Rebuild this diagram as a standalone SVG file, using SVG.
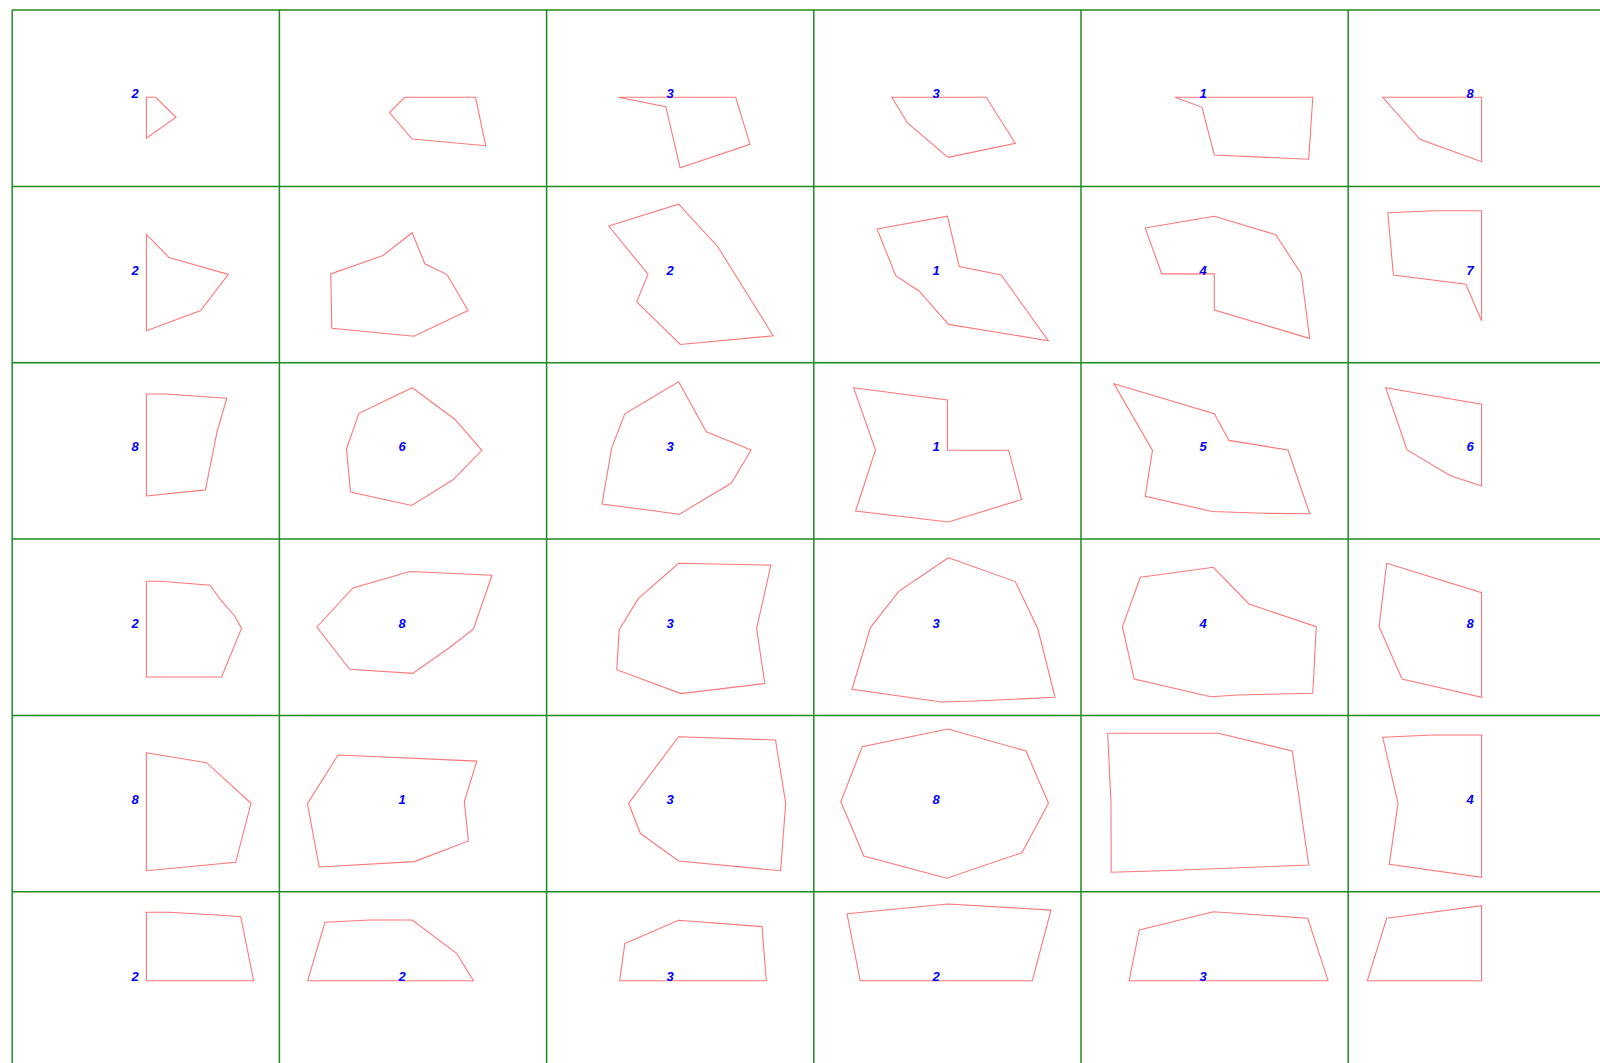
<svg xmlns="http://www.w3.org/2000/svg" width="1600" height="1063" viewBox="0 0 1600 1063">
<style>
.g{stroke:#1f8a1f;stroke-width:1.5;fill:none}
.p{stroke:#ff7878;stroke-width:1.1;fill:none;stroke-linejoin:miter}
.t{font-family:"Liberation Sans",Arial,sans-serif;font-size:13px;font-style:italic;font-weight:bold;fill:#0000ff;text-anchor:middle}
</style>
<rect x="0" y="0" width="1600" height="1063" fill="#ffffff"/>
<g id="grid">
<line class="g" x1="12" y1="10" x2="1600" y2="10"/>
<line class="g" x1="12" y1="186.5" x2="1600" y2="186.5"/>
<line class="g" x1="12" y1="362.8" x2="1600" y2="362.8"/>
<line class="g" x1="12" y1="539.1" x2="1600" y2="539.1"/>
<line class="g" x1="12" y1="715.4" x2="1600" y2="715.4"/>
<line class="g" x1="12" y1="891.7" x2="1600" y2="891.7"/>
<line class="g" x1="12.2" y1="10" x2="12.2" y2="1063"/>
<line class="g" x1="279.4" y1="10" x2="279.4" y2="1063"/>
<line class="g" x1="546.6" y1="10" x2="546.6" y2="1063"/>
<line class="g" x1="813.8" y1="10" x2="813.8" y2="1063"/>
<line class="g" x1="1081" y1="10" x2="1081" y2="1063"/>
<line class="g" x1="1348.2" y1="10" x2="1348.2" y2="1063"/>
</g>
<g id="connectors"></g>
<!-- row 0 -->
<g id="c00"><polygon class="p" points="146.4,97.3 155.6,97.3 176,117.3 146.4,138.3"/><text class="t" x="135" y="98">2</text></g>
<g id="c01"><polygon class="p" points="404.6,97.3 475.5,97.3 485.7,145.7 412.2,139 389.5,112.5"/></g>
<g id="c02"><polygon class="p" points="618.4,97.3 735.7,97.3 750,144.3 680.1,167.7 665.8,106.7"/><text class="t" x="670" y="98">3</text></g>
<g id="c03"><polygon class="p" points="891.8,97.3 986.2,97.3 1015.3,143.3 948,157.3 907.5,123"/><text class="t" x="936" y="98">3</text></g>
<g id="c04"><polygon class="p" points="1175,97.3 1312.8,97.3 1308.7,159.3 1214.3,155 1202,107.3"/><text class="t" x="1203" y="98">1</text></g>
<g id="c05"><polygon class="p" points="1382.7,97.3 1481.6,97.3 1481.6,161.7 1419.9,139.3"/><text class="t" x="1470" y="98">8</text></g>
<!-- row 1 -->
<g id="c10"><polygon class="p" points="146.4,234.3 169,257.6 228.3,274.4 200.7,310.5 146.4,330.7"/><text class="t" x="135" y="275">2</text></g>
<g id="c11"><polygon class="p" points="412.2,232.7 424.8,263.8 447,274.6 468.1,310.5 414,336.2 331.8,328.2 330.8,273.9 383,255.5"/></g>
<g id="c12"><polygon class="p" points="608.7,226 678.6,204.2 718,247 773.2,335.8 680.3,344.5 636.7,301.8 648,274.2"/><text class="t" x="670" y="275">2</text></g>
<g id="c13"><polygon class="p" points="877,229 947.4,216.2 959.2,266.6 1001.2,274.9 1048.3,340.7 948.5,324.4 919,291 895.9,276"/><text class="t" x="936" y="275">1</text></g>
<g id="c14"><polygon class="p" points="1145.2,228 1214.3,216.2 1275.8,234.8 1301.3,273.9 1309.7,338.4 1214.3,310 1214.3,273.9 1161.7,273.9"/><text class="t" x="1203" y="275">4</text></g>
<g id="c15"><polygon class="p" points="1387.8,212.7 1435.2,210.7 1481.6,210.7 1481.6,320.7 1465.8,284.3 1393.4,275"/><text class="t" x="1470" y="275">7</text></g>
<!-- row 2 -->
<g id="c20"><polygon class="p" points="146.4,394 165.8,394 226.8,398.2 217,432 205.4,489.9 146.4,496"/><text class="t" x="135" y="451">8</text></g>
<g id="c21"><polygon class="p" points="412.2,387.7 454.8,419.2 481.8,450.3 453,479.8 411.7,505.5 350.5,492 346.5,448.7 359,413.3"/><text class="t" x="402" y="451">6</text></g>
<g id="c22"><polygon class="p" points="678.6,381.7 706.3,431.7 751,450 731.4,483 679.4,514.2 602,504 611.7,447.8 624.8,413.8"/><text class="t" x="670" y="451">3</text></g>
<g id="c23"><polygon class="p" points="853.6,387.7 947.5,400 947.5,450.2 1008.6,450.2 1021.6,499.5 948.5,522 855.6,511 875.5,450"/><text class="t" x="936" y="451">1</text></g>
<g id="c24"><polygon class="p" points="1114,383.8 1214.3,413.8 1229,440.4 1288,450 1309.7,513.8 1263.3,513.3 1212.2,511.5 1145.2,496.3 1152.5,450.4"/><text class="t" x="1203" y="451">5</text></g>
<g id="c25"><polygon class="p" points="1385.7,387.7 1481.6,404.3 1481.6,486 1450.5,475.7 1407.1,450"/><text class="t" x="1470" y="451">6</text></g>
<!-- row 3 -->
<g id="c30"><polygon class="p" points="146.4,581.3 160.7,581.3 210.2,585.3 219.4,598.3 234.7,616 241.5,628.4 221.6,677 146.4,677"/><text class="t" x="135" y="628">2</text></g>
<g id="c31"><polygon class="p" points="316.8,627 353,588 409.7,571.5 492,575.2 473.5,629 449,648 412.7,673.4 349.7,669.3"/><text class="t" x="402" y="628">8</text></g>
<g id="c32"><polygon class="p" points="678.6,563.3 770.9,565.1 756.6,628.4 764.8,683.5 680.8,693.6 616.8,669.7 619.2,629.7 638.3,598.6"/><text class="t" x="670" y="628">3</text></g>
<g id="c33"><polygon class="p" points="948.5,557.7 1015.3,581.6 1038,629.3 1055,697.3 976,701 941.8,702 852,689.4 870.4,627.6 898.7,591.4"/><text class="t" x="936" y="628">3</text></g>
<g id="c34"><polygon class="p" points="1140.3,577.3 1213.3,567.3 1249,604 1316.3,626.7 1312.8,693.3 1237.8,695 1210.7,696.7 1134.2,679 1122.4,626.7"/><text class="t" x="1203" y="628">4</text></g>
<g id="c35"><polygon class="p" points="1386.7,563.3 1481.6,592.7 1481.6,697.3 1402,679 1379.1,626.7"/><text class="t" x="1470" y="628">8</text></g>
<!-- row 4 -->
<g id="c40"><polygon class="p" points="146.4,752.7 206.6,762.7 251,803.3 235.7,862.3 146.4,870.7"/><text class="t" x="135" y="804">8</text></g>
<g id="c41"><polygon class="p" points="338,755 476.8,761.1 464.3,801.8 468.4,840.9 414.3,861.6 319.2,867 307.4,803.6"/><text class="t" x="402" y="804">1</text></g>
<g id="c42"><polygon class="p" points="678.6,736.7 775.5,740 785.7,803.3 780.6,870.7 678.6,861 640.3,833.3 628.6,803.3"/><text class="t" x="670" y="804">3</text></g>
<g id="c43"><polygon class="p" points="948,729 1026,751 1048.5,803.3 1021.9,852.7 946.9,878.3 863.8,856 840.8,801.7 862.2,746.7"/><text class="t" x="936" y="804">8</text></g>
<g id="c44"><polygon class="p" points="1107.7,733.3 1218.4,733.3 1292.3,751 1308.7,865 1162.2,870.7 1111.2,872.3 1111,803"/></g>
<g id="c45"><polygon class="p" points="1382.7,737.3 1432.7,735 1481.6,735 1481.6,877.3 1389.3,864.3 1398,803.3"/><text class="t" x="1470" y="804">4</text></g>
<!-- row 5 -->
<g id="c50"><polygon class="p" points="146.4,912.3 168.4,912.3 216.8,915 240.8,916.7 253.6,980.7 146.4,980.7"/><text class="t" x="135" y="981">2</text></g>
<g id="c51"><polygon class="p" points="325,922.3 369.9,920 412.2,920 456.6,953.3 473.5,980.7 307.7,980.7"/><text class="t" x="402" y="981">2</text></g>
<g id="c52"><polygon class="p" points="624.8,943.6 678.6,920.2 762,926.6 766.3,980.7 619.7,980.7"/><text class="t" x="670" y="981">3</text></g>
<g id="c53"><polygon class="p" points="847,913.8 948,904 1051,910.1 1032.3,980.7 860.2,980.7"/><text class="t" x="936" y="981">2</text></g>
<g id="c54"><polygon class="p" points="1139.3,930 1213.3,911.7 1307.7,918.3 1328.1,980.7 1129.1,980.7"/><text class="t" x="1203" y="981">3</text></g>
<g id="c55"><polygon class="p" points="1386.7,918.3 1481.6,905.7 1481.6,980.7 1367.3,980.7"/></g>
</svg>
